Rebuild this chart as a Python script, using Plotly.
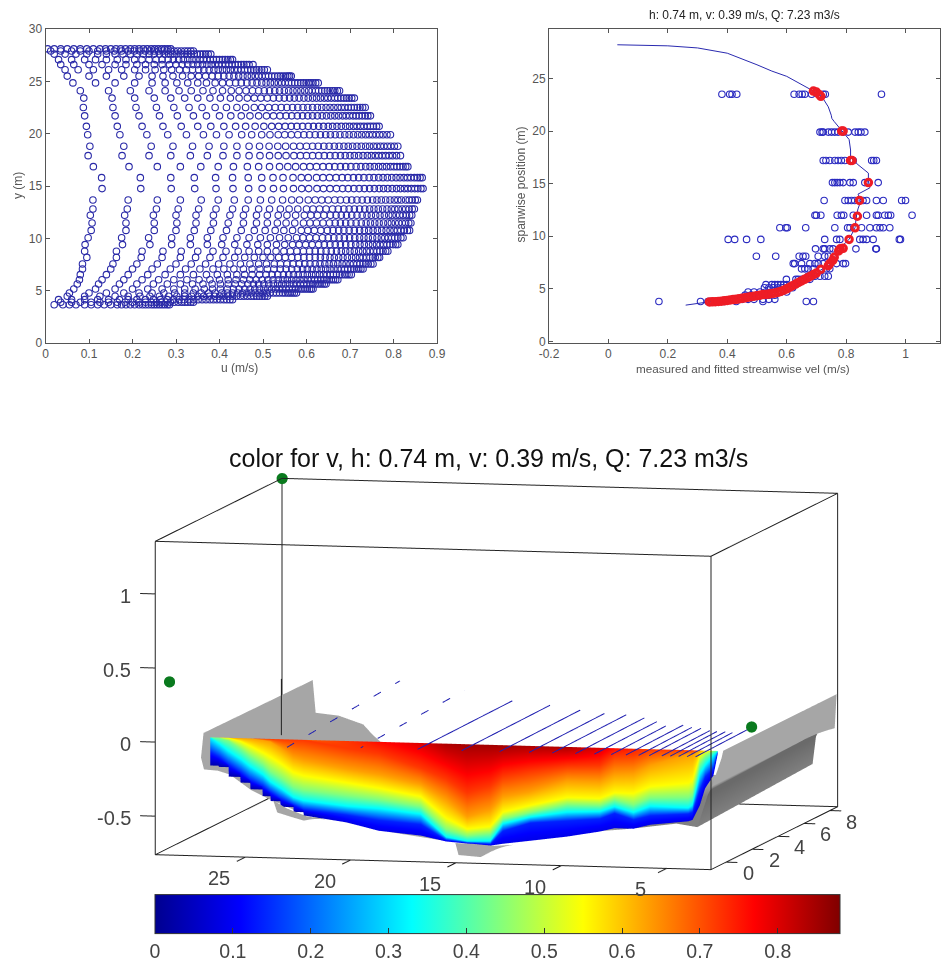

import plotly.graph_objects as go

# ---------- left panel: u values read per spanwise station
left_rows = {
 28.1:[.005,.02,.035,.05,.065,.08,.095,.11,.125,.138,.15,.162,.173,.184,.195,.205,.215,.225,.234,.243,.251,.259,.267,.274,.281,.288],
 27.9:[.012,.035,.06,.08,.1,.12,.14,.158,.175,.19,.204,.217,.229,.24,.25,.26,.27,.279,.288,.296,.304,.312,.32,.327,.334,.34],
 27.6:[.02,.045,.07,.095,.12,.14,.16,.178,.195,.21,.225,.238,.25,.262,.273,.283,.293,.302,.311,.319,.327,.335,.342,.349,.356,.362,.368,.374,.38],
 27.07:[.03,.06,.09,.115,.14,.165,.185,.205,.222,.238,.254,.268,.282,.294,.306,.317,.327,.337,.346,.355,.363,.371,.379,.386,.393,.4,.407,.413,.419,.425,.43],
 26.6:[.035,.065,.1,.13,.16,.185,.21,.23,.25,.268,.285,.3,.314,.327,.339,.35,.361,.371,.381,.39,.398,.406,.414,.422,.429,.436,.443,.45,.456,.462,.468,.477],
 26.1:[.045,.075,.11,.145,.175,.205,.23,.252,.272,.29,.308,.324,.338,.352,.364,.376,.387,.397,.407,.416,.425,.434,.442,.45,.458,.465,.472,.479,.485,.491,.497,.503,.51],
 25.5:[.05,.1,.14,.18,.215,.245,.27,.293,.315,.335,.352,.368,.383,.397,.41,.422,.433,.444,.454,.464,.473,.482,.49,.498,.506,.513,.52,.527,.534,.54,.546,.552,.557,.561,.565],
 24.85:[.063,.115,.16,.205,.245,.275,.302,.327,.35,.37,.39,.407,.423,.437,.45,.463,.475,.486,.497,.507,.517,.526,.535,.543,.551,.559,.566,.573,.58,.587,.593,.599,.605,.61,.615,.621,.627],
 24.1:[.08,.145,.195,.238,.275,.307,.335,.362,.385,.407,.427,.445,.461,.476,.49,.503,.515,.527,.538,.549,.559,.569,.578,.587,.596,.605,.613,.621,.628,.635,.642,.648,.654,.66,.665,.671,.676],
 23.4:[.088,.153,.205,.25,.288,.32,.35,.378,.402,.425,.445,.464,.48,.495,.51,.524,.537,.549,.561,.572,.583,.594,.604,.614,.623,.632,.641,.649,.657,.665,.672,.679,.686,.692,.698,.704,.71],
 22.5:[.087,.155,.208,.255,.295,.33,.36,.39,.416,.44,.46,.48,.497,.513,.528,.542,.555,.568,.58,.592,.603,.614,.625,.635,.645,.654,.663,.672,.68,.688,.696,.703,.71,.717,.723,.729,.735],
 21.7:[.09,.16,.215,.262,.303,.34,.37,.4,.426,.45,.47,.49,.508,.524,.539,.553,.566,.579,.591,.603,.614,.625,.636,.646,.656,.665,.674,.683,.691,.699,.707,.714,.721,.728,.735,.741,.747],
 20.7:[.094,.165,.222,.27,.312,.35,.38,.41,.437,.46,.482,.502,.52,.536,.551,.565,.578,.591,.604,.616,.628,.639,.65,.66,.67,.68,.69,.699,.708,.716,.724,.732,.74,.747,.754,.761,.767],
 19.9:[.097,.171,.233,.281,.324,.363,.393,.422,.451,.474,.497,.516,.535,.55,.565,.58,.594,.607,.62,.632,.644,.655,.666,.677,.688,.698,.708,.718,.727,.736,.744,.752,.76,.768,.776,.785,.793],
 18.8:[.102,.18,.243,.293,.338,.376,.41,.44,.468,.492,.514,.534,.552,.57,.585,.6,.614,.627,.64,.652,.664,.675,.686,.696,.706,.716,.726,.736,.745,.754,.762,.77,.778,.786,.794,.802,.81],
 17.9:[.098,.176,.238,.288,.333,.372,.408,.44,.468,.493,.515,.535,.553,.571,.586,.6,.614,.628,.641,.654,.666,.678,.689,.7,.71,.72,.73,.74,.749,.758,.766,.774,.782,.79,.798,.807,.816],
 16.85:[.11,.192,.257,.31,.357,.397,.432,.464,.49,.515,.538,.557,.575,.593,.608,.623,.638,.652,.665,.678,.69,.702,.714,.725,.736,.746,.756,.766,.775,.784,.793,.801,.808,.815,.822,.828,.833],
 15.8:[.129,.218,.288,.342,.391,.43,.466,.497,.523,.546,.569,.588,.604,.623,.638,.653,.668,.682,.695,.708,.72,.732,.744,.755,.766,.776,.786,.796,.806,.815,.824,.832,.84,.848,.855,.861,.866],
 14.75:[.13,.219,.289,.343,.392,.431,.467,.498,.524,.547,.57,.589,.605,.624,.639,.654,.669,.683,.696,.709,.721,.733,.745,.756,.767,.777,.787,.797,.807,.816,.825,.833,.841,.849,.856,.863,.868],
 13.66:[.109,.19,.257,.31,.358,.397,.434,.466,.494,.52,.545,.566,.584,.604,.62,.635,.65,.665,.678,.692,.704,.716,.728,.74,.752,.762,.772,.782,.792,.802,.81,.818,.828,.836,.843,.85,.855],
 12.8:[.109,.188,.255,.305,.352,.392,.43,.46,.49,.515,.54,.56,.58,.6,.615,.63,.645,.66,.673,.686,.698,.71,.722,.734,.745,.755,.765,.775,.785,.795,.803,.811,.82,.828,.836,.843,.848],
 12.2:[.103,.182,.248,.3,.346,.386,.424,.455,.485,.51,.535,.555,.575,.595,.61,.625,.64,.655,.668,.68,.692,.704,.716,.728,.739,.749,.759,.769,.779,.789,.797,.806,.814,.822,.83,.837,.842],
 11.46:[.107,.185,.25,.302,.346,.386,.42,.455,.485,.51,.533,.553,.573,.593,.608,.623,.638,.653,.666,.678,.69,.702,.714,.726,.737,.747,.757,.767,.777,.787,.795,.804,.812,.82,.828,.835,.84],
 10.76:[.105,.185,.25,.3,.342,.38,.416,.45,.48,.505,.528,.548,.568,.588,.603,.618,.633,.648,.661,.674,.686,.698,.71,.722,.733,.743,.753,.763,.773,.783,.792,.801,.809,.817,.825,.832,.837],
 10.06:[.098,.175,.237,.29,.333,.372,.408,.44,.468,.494,.517,.538,.558,.577,.592,.607,.622,.637,.65,.663,.675,.687,.699,.711,.722,.732,.742,.752,.762,.772,.78,.788,.796,.803,.81,.817,.822],
 9.4:[.091,.177,.24,.29,.333,.372,.405,.435,.463,.488,.51,.531,.55,.568,.583,.598,.613,.628,.641,.654,.666,.678,.69,.702,.713,.723,.733,.743,.752,.761,.769,.777,.785,.792,.799,.805,.81],
 8.76:[.09,.163,.222,.27,.312,.35,.385,.415,.443,.468,.49,.51,.53,.548,.563,.578,.593,.607,.62,.633,.645,.657,.669,.68,.69,.7,.71,.72,.729,.738,.746,.754,.762,.769,.776,.782,.787],
 8.18:[.095,.163,.22,.268,.31,.345,.378,.408,.435,.458,.48,.5,.518,.536,.551,.566,.58,.594,.607,.62,.632,.643,.654,.664,.674,.684,.694,.704,.713,.722,.73,.738,.746,.752,.758,.764,.768],
 7.55:[.085,.155,.21,.257,.3,.335,.368,.398,.424,.448,.47,.49,.508,.526,.54,.555,.569,.583,.596,.608,.62,.631,.642,.652,.662,.672,.682,.691,.7,.708,.716,.723,.73,.736,.742,.748,.753],
 7.07:[.085,.15,.2,.245,.287,.322,.355,.385,.41,.433,.455,.475,.493,.51,.525,.54,.553,.566,.579,.591,.602,.613,.624,.634,.644,.654,.663,.672,.68,.688,.695,.702,.709,.715,.72,.725,.73],
 6.53:[.08,.14,.19,.235,.275,.31,.34,.37,.395,.418,.44,.458,.475,.492,.507,.521,.534,.547,.559,.57,.581,.592,.602,.612,.621,.63,.639,.647,.655,.662,.669,.676,.682,.688,.693,.698,.703],
 6.05:[.078,.13,.18,.222,.26,.295,.325,.353,.378,.4,.42,.438,.455,.47,.484,.498,.511,.523,.535,.546,.556,.566,.576,.585,.594,.603,.611,.619,.626,.633,.64,.646,.652,.657,.662,.667,.672],
 5.64:[.073,.122,.17,.21,.248,.28,.31,.338,.362,.383,.402,.42,.436,.451,.465,.478,.49,.502,.513,.524,.534,.543,.552,.561,.57,.578,.586,.594,.601,.608,.614,.62,.626,.631,.636,.641,.645],
 5.16:[.065,.115,.16,.2,.235,.268,.295,.32,.344,.365,.384,.402,.418,.432,.445,.458,.47,.481,.492,.502,.511,.52,.529,.537,.545,.553,.56,.568,.575,.581,.587,.592,.597,.602,.607,.611,.615],
 4.78:[.055,.1,.14,.18,.215,.245,.272,.297,.32,.34,.358,.375,.39,.405,.418,.43,.442,.453,.463,.473,.482,.491,.5,.508,.516,.524,.531,.538,.545,.551,.557,.562,.567,.572,.577],
 4.46:[.05,.09,.125,.16,.19,.217,.24,.262,.283,.302,.32,.336,.35,.364,.377,.389,.4,.41,.42,.43,.439,.448,.456,.464,.472,.479,.486,.492,.498,.504,.51],
 4.14:[.03,.06,.09,.12,.145,.17,.19,.21,.23,.248,.264,.28,.294,.307,.319,.33,.341,.351,.36,.369,.378,.386,.394,.402,.41,.417,.424,.43],
 3.9:[.035,.06,.08,.105,.125,.145,.165,.183,.2,.215,.23,.243,.255,.266,.277,.287,.296,.305,.313,.32,.327,.334,.34],
 3.66:[.02,.04,.055,.07,.09,.105,.12,.135,.15,.165,.175,.185,.195,.205,.215,.223,.23,.237,.244,.25,.256,.262,.268,.274,.28,.285],
}
# ---------- right panel
fit_u = [.03,.2,.3,.4,.5,.55,.6,.65,.69,.72,.74,.75,.752,.76,.785,.81,.815,.815,.84,.875,.875,.88,.84,.85,.84,.835,.83,.81,.78,.765,.745,.715,.68,.65,.6,.55,.5,.45,.4,.35,.3,.26]
fit_y = [28.2,28.1,27.9,27.4,26.3,25.7,25.2,24.4,23.8,23.2,22.3,21.5,21.2,20.9,20,19.2,18.2,17.5,16.8,16,15.3,14.6,14,13.4,12.6,12,10.8,9.7,8.9,8,7.3,6.8,6.2,5.7,5,4.6,4.4,4.2,3.95,3.75,3.55,3.45]
meas_rows = {
 23.5:[.382,.408,.416,.432,.625,.642,.652,.661,.684,.723,.73,.919],
 19.9:[.712,.719,.723,.74,.751,.762,.773,.79,.807,.83,.841,.85,.863],
 17.2:[.723,.732,.745,.762,.773,.784,.796,.813,.824,.886,.893,.902],
 15.1:[.754,.762,.77,.779,.79,.813,.824,.863,.908],
 13.4:[.726,.796,.807,.818,.829,.846,.857,.869,.902,.925,.987,1.0],
 12.0:[.695,.7,.715,.77,.784,.792,.824,.869,.902,.908,.93,.942,.95,1.022],
 10.8:[.577,.597,.602,.664,.762,.805,.813,.852,.88,.902,.914,.925,.947],
 9.7:[.403,.425,.465,.513,.728,.768,.779,.846,.857,.869,.891,.979,.983],
 8.8:[.697,.723,.728,.745,.756,.833,.9,.902],
 8.1:[.498,.563,.642,.655,.664,.706,.728,.74],
 7.4:[.622,.627,.65,.678,.695,.706,.723,.768,.79,.798],
 6.9:[.65,.661,.672,.689,.712,.734,.745],
 6.2:[.672,.695,.712,.728,.74],
 5.9:[.599,.631,.639,.65,.678],
 5.4:[.53,.55,.56,.57,.58,.59,.6],
 5.1:[.525,.54,.555,.57,.585,.6,.62],
 4.7:[.47,.49,.51,.53,.55,.57,.58,.6],
 4.4:[.46,.48,.5,.52,.54,.56],
 4.0:[.45,.47,.49,.52,.54,.56],
 3.8:[.17,.31,.335,.34,.35,.37,.39,.43,.52,.666,.69],
}
red_u=[.34,.35,.36,.37,.38,.39,.40,.41,.42,.43,.44,.45,.46,.47,.48,.49,.50,.51,.52,.53,.54,.55,.56,.57,.58,.59,.6,.61,.62,.63,.64,.65,.66,.67,.68,.69,.7,.715,.74,.745,.755,.76,.775,.78,.79,.81,.83,.838,.845,.875,.82,.815,.785,.79,.69,.7,.71,.715]
red_y=[3.75,3.76,3.78,3.8,3.82,3.86,3.9,3.94,3.98,4.0,4.05,4.1,4.15,4.2,4.25,4.3,4.35,4.4,4.45,4.47,4.5,4.55,4.6,4.67,4.75,4.87,5,5.15,5.3,5.45,5.6,5.75,5.9,6.05,6.2,6.35,6.5,6.85,7.2,7.4,7.7,8,8.6,8.8,8.85,9.7,10.8,11.9,13.4,15.1,17.2,17.2,20,20,23.8,23.7,23.45,23.3]

# ---------- 3D colored section: x stations, depth below section top per v level
sec_x=[28.1,27.7,27.69,27.23,27.22,26.67,26.66,26.2,26.19,25.62,25.61,25.24,25.23,24.77,24.76,24.15,24.14,23.67,23.66,
       21.6,20.1,18.1,16.9,15.9,14.8,14.2,12.9,11.15,9.6,8.9,8.0,7.2,5.4,5.2,4.85,4.6,4.2,4.0]
sec_levels=[.72,.63,.55,.44,.33,.14]
sec_bed_v=[.03]*19+[.09]*19
sec_top=[.3,.38,.38,.45,.45,.5,.5,.55,.55,.58,.58,.62,.62,.64,.64,.66,.66,.68,.68,
         .72,.76,.8,.84,.85,.85,.85,.84,.84,.8,.76,.74,.7,.62,.6,.5,.42,.33,.3]
sec_depth=[
[0,0,0,0,0,.1,.19],[0,0,0,0,.04,.13,.19],[0,0,0,0,.04,.13,.198],[0,0,0,.02,.09,.18,.198],[0,0,0,.02,.09,.18,.262],
[0,0,.02,.07,.14,.23,.262],[0,0,.02,.07,.14,.23,.30],[0,0,.05,.12,.19,.28,.30],[0,0,.05,.12,.19,.28,.343],
[0,.01,.09,.17,.24,.32,.343],[0,.01,.09,.17,.24,.32,.387],[0,.02,.12,.22,.29,.36,.387],[0,.02,.12,.22,.29,.36,.419],
[0,.06,.16,.26,.33,.40,.419],[0,.06,.16,.26,.33,.40,.456],[0,.12,.22,.32,.39,.44,.456],[0,.12,.22,.32,.39,.44,.488],
[0,.14,.24,.34,.41,.47,.488],[0,.14,.24,.34,.41,.47,.51],[.05,.19,.28,.37,.44,.5,.55],
[.08,.22,.31,.39,.45,.53,.6],[.17,.28,.36,.43,.48,.55,.625],[.24,.38,.5,.58,.63,.65,.66],[.33,.49,.57,.62,.655,.665,.67],
[.28,.44,.55,.6,.65,.67,.68],[.21,.35,.45,.5,.53,.58,.665],[.17,.31,.40,.45,.48,.52,.64],[.13,.23,.34,.39,.44,.5,.605],
[.12,.23,.34,.39,.43,.48,.565],[.05,.18,.3,.35,.395,.44,.54],[.04,.17,.3,.38,.43,.48,.54],[0,.11,.25,.33,.385,.45,.51],
[0,.03,.22,.32,.39,.43,.48],[0,.03,.2,.3,.37,.42,.47],[0,0,.03,.09,.16,.27,.37],[0,0,0,.04,.1,.18,.255],[0,0,0,0,.03,.12,.165],[0,0,0,0,0,.01,.02]]
sec_y=1.5
sec_z0=-.08

# bed (gray): near and far row
bed_near_x=[28.45,28.57,28.43,27.77,27.2,26.2,25.3,24.1,20.1,16.9,14.8,12.9,9.6,8,6,5,4.5,4.4,4.3,3.85,3.77]
bed_near_z=[-.054,-.22,-.30,-.306,-.33,-.43,-.49,-.56,-.68,-.74,-.76,-.72,-.645,-.62,-.58,-.6,-.38,-.35,-.32,-.13,-.08]
bed_far_x=[27.6,27.46,26.37,25.2,24.76,24,23,21,18,15,13,11,8,6,4.5,3.86,3.7,3.6,3.5,2.81,2.72]
bed_far_z=[0,-.22,-.235,-.29,-.357,-.45,-.5,-.55,-.6,-.65,-.65,-.6,-.56,-.52,-.5,-.475,-.29,-.26,-.255,-.23,0]
bed_shade=[1,1,1,1,1,1,1,1,1,1,1,1,1,.3,.3,.3,0,0,1,1,1]
bed_y=[1.55,8.58]
# small protrusions of the bed in front of the section
bump_x=[[24.45,24.26,23.5,23.0,22.5],[15.8,15.65,14.6,13.7]]
bump_front=[[-.446,-.526,-.557,-.576,-.549],[-.70,-.78,-.79,-.72]]
bump_back=[[-.545,-.555,-.595,-.605,-.615],[-.75,-.75,-.76,-.75]]
bump_y=[.43,1.48]

# depth-averaged velocity lines
line_x=[23.6,20.1,17.4,15.3,13.5,12.1,11,9.9,9,8.2,7.5,6.9,6.4,5.8,5.4,5,4.6,4.2]
line_len=[8.7,8.0,7.3,6.8,6.2,5.8,5.7,5.3,4.8,4.2,4.4,4.1,4.0,3.7,3.6,3.6,3.5,4.2]
line_z0=[-.07,-.06]+[-.06]*16
line_z1=[0,-.02]+[-.05]*16
line_start=0.11

x_rng=[2.68,29.07]; y_rng=[-1.16,8.6]; z_rng=[-.76,1.355]
x_ticks=[5,10,15,20,25]; y_ticks=[0,2,4,6,8]; z_ticks=[-.5,0,.5,1]
cb_ticks=[0,.1,.2,.3,.4,.5,.6,.7,.8]
jet=[[0,'#00008f'],[.125,'#0000ff'],[.375,'#00ffff'],[.625,'#ffff00'],[.875,'#ff0000'],[1,'#800000']]

W,H=943,969
def fx(p): return p/W
def fy(p): return 1-p/H
fig=go.Figure()
BLUE='#2a2aa8'
ax=dict(showgrid=False,zeroline=False,mirror='allticks',showline=True,linecolor='#555',linewidth=1,ticks='inside',ticklen=4,tickcolor='#555',
        tickfont=dict(family='Liberation Sans',size=12,color='#555'))
lx=[];ly=[]
for y,us in left_rows.items():
    lx+=us; ly+=[y]*len(us)
fig.add_trace(go.Scatter(x=lx,y=ly,mode='markers',marker=dict(symbol='circle-open',size=6.5,color=BLUE,line=dict(width=1.1)),xaxis='x',yaxis='y',showlegend=False))
mx=[];my=[]
for y,us in meas_rows.items():
    mx+=us; my+=[y]*len(us)
fig.add_trace(go.Scatter(x=mx,y=my,mode='markers',marker=dict(symbol='circle-open',size=6.5,color='#2a2ac0',line=dict(width=1.1)),xaxis='x2',yaxis='y2',showlegend=False))
fig.add_trace(go.Scatter(x=fit_u,y=fit_y,mode='lines',line=dict(color='#2a2ab0',width=1),xaxis='x2',yaxis='y2',showlegend=False))
fig.add_trace(go.Scatter(x=red_u,y=red_y,mode='markers',marker=dict(symbol='circle-open',size=6.5,color='#ee1c25',line=dict(width=3)),xaxis='x2',yaxis='y2',showlegend=False))

fig.update_layout(
    width=W,height=H,margin=dict(l=0,r=0,t=0,b=0,autoexpand=False),paper_bgcolor='white',plot_bgcolor='white',showlegend=False,
    xaxis=dict(domain=[fx(45.5),fx(437)],range=[0,.9],tickvals=[i/10 for i in range(10)],ticktext=['0']+[f'0.{i}' for i in range(1,10)],anchor='y',**ax),
    yaxis=dict(domain=[fy(343),fy(29)],range=[0,30],tickvals=[0,5,10,15,20,25,30],anchor='x',**ax),
    xaxis2=dict(domain=[fx(549),fx(940)],range=[-.2,1.116],tickvals=[-.2,0,.2,.4,.6,.8,1],ticktext=['-0.2','0','0.2','0.4','0.6','0.8','1'],anchor='y2',**ax),
    yaxis2=dict(domain=[fy(343),fy(29)],range=[-.15,29.7],tickvals=[0,5,10,15,20,25],anchor='x2',**ax),
)
# 3D section
zg=[];xg=[];yg=[];cg=[]
for j in range(len(sec_levels)+2):
    zr=[];xr=[];yr=[];cr=[]
    for i,x in enumerate(sec_x):
        d=0 if j==0 else sec_depth[i][j-1]
        v=sec_top[i] if j==0 else (sec_bed_v[i] if j==len(sec_levels)+1 else sec_levels[j-1])
        zr.append(sec_z0-d);xr.append(-x);yr.append(sec_y);cr.append(v)
    zg.append(zr);xg.append(xr);yg.append(yr);cg.append(cr)
flat=dict(ambient=1,diffuse=0,specular=0,roughness=1,fresnel=0)
fig.add_trace(go.Surface(x=xg,y=yg,z=zg,surfacecolor=cg,colorscale=jet,cmin=0,cmax=.88,lighting=flat,hoverinfo='skip',
    colorbar=dict(orientation='h',x=fx(497.5),xanchor='center',y=fy(969),yanchor='bottom',lenmode='pixels',len=685,thicknessmode='pixels',thickness=39,
                  tickvals=cb_ticks,ticktext=['0']+[f'{t:g}' for t in cb_ticks[1:]],ticks='inside',ticklen=6,tickcolor='#333',outlinecolor='#333',outlinewidth=1,
                  xpad=0,ypad=0,tickfont=dict(family='Liberation Sans',size=19.5,color='#444'))))
# bed
gray=[[0,'#6a6a6a'],[.3,'#808080'],[1,'#a6a6a6']]
fig.add_trace(go.Surface(x=[[-x for x in bed_near_x],[-x for x in bed_far_x]],
    y=[[bed_y[0]]*len(bed_near_x),[bed_y[1]]*len(bed_far_x)],z=[bed_near_z,bed_far_z],
    surfacecolor=[bed_shade,bed_shade],colorscale=gray,cmin=0,cmax=1,showscale=False,lighting=flat,hoverinfo='skip'))
for bx_,bf,bb in zip(bump_x,bump_front,bump_back):
    fig.add_trace(go.Surface(x=[[-x for x in bx_],[-x for x in bx_]],y=[[bump_y[0]]*len(bx_),[bump_y[1]]*len(bx_)],z=[bf,bb],
        surfacecolor=[[1]*len(bx_)]*2,colorscale=gray,cmin=0,cmax=1,showscale=False,lighting=flat,hoverinfo='skip'))
# box
X0,X1=-x_rng[1],-x_rng[0];Y0,Y1=y_rng;Z0,Z1=z_rng
def seg(a,b,xs,ys,zs):
    xs+= [a[0],b[0],None];ys+=[a[1],b[1],None];zs+=[a[2],b[2],None]
bx=[];by=[];bz=[]
for y in (Y0,Y1):
    for z in (Z0,Z1):
        seg((X0,y,z),(X1,y,z),bx,by,bz)
for x in (X0,X1):
    for z in (Z0,Z1):
        seg((x,Y0,z),(x,Y1,z),bx,by,bz)
    for y in (Y0,Y1):
        seg((x,y,Z0),(x,y,Z1),bx,by,bz)
TS=.21
for t in x_ticks: seg((-t+TS,Y0,Z0),(-t+TS,Y0-.66,Z0),bx,by,bz)
for t in y_ticks: seg((X1,t,Z0),(X1+.54,t,Z0),bx,by,bz)
for t in z_ticks: seg((X0,Y0,t),(X0-.72,Y0,t),bx,by,bz)
# back-left edge stays visible across the gray bank
seg((-24.69,1.45,-.05),(-24.69,1.45,.33),bx,by,bz)
fig.add_trace(go.Scatter3d(x=bx,y=by,z=bz,mode='lines',line=dict(color='#222',width=2),hoverinfo='skip'))
ax3=[];ay3=[];az3=[];dx3=[];dy3=[];dz3=[]
for k,(x,l,a,b) in enumerate(zip(line_x,line_len,line_z0,line_z1)):
    if k<2:
        dx3+=[-x,-x,None];dy3+=[line_start,line_start+l,None];dz3+=[a,b,None]
    else:
        ax3+=[-x,-x,None];ay3+=[line_start,line_start+l,None];az3+=[a,b,None]
fig.add_trace(go.Scatter3d(x=ax3,y=ay3,z=az3,mode='lines',line=dict(color='#2020b0',width=2),hoverinfo='skip'))
fig.add_trace(go.Scatter3d(x=dx3,y=dy3,z=dz3,mode='lines',line=dict(color='#2020b0',width=2,dash='longdash'),hoverinfo='skip'))
fig.add_trace(go.Scatter3d(x=[X0,-28.4,-4],y=[Y1,Y0,4.1],z=[Z1,.41,-.03],mode='markers',marker=dict(color='#0a7a1e',size=6.5),hoverinfo='skip'))

ann3=[]
tf=dict(family='Liberation Sans',size=20,color='#444')
for t in z_ticks:
    ann3.append(dict(x=X0,y=Y0,z=t,text=f'{t:g}',showarrow=False,xanchor='right',xshift=-22,yshift=-2,font=tf))
for t in x_ticks:
    ann3.append(dict(x=-t+TS,y=Y0,z=Z0,text=f'{t:g}',showarrow=False,yshift=-21,xshift=-26,font=tf))
for t in y_ticks:
    ann3.append(dict(x=X1,y=t,z=Z0,text=f'{t:g}',showarrow=False,xshift=22,yshift=-11,font=tf))
r=8
S=1.934
# axis ranges carry a symmetric pad so the outward ticks are not clipped
PX,PY,PZ=.8,.7,.1
LX,LY,LZ=X1-X0,Y1-Y0,Z1-Z0
fig.update_layout(scene=dict(domain=dict(x=[78/W,915/W],y=[0,590/H]),
    xaxis=dict(visible=False,range=[X0-PX,X1+PX]),yaxis=dict(visible=False,range=[Y0-PY,Y1+PY]),zaxis=dict(visible=False,range=[Z0-PZ,Z1+PZ]),
    aspectmode='manual',aspectratio=dict(x=S*(LX+2*PX)/LX,y=.98*S*(LY+2*PY)/LY,z=.553*S*(LZ+2*PZ)/LZ),
    camera=dict(eye=dict(x=.225*r,y=-.967*r,z=.1155*r),up=dict(x=0,y=0,z=1),center=dict(x=0,y=0,z=0),projection=dict(type='orthographic')),
    annotations=ann3,bgcolor='rgba(0,0,0,0)'))
def txt(x,y,s,size,color='#555',angle=0):
    fig.add_annotation(xref='paper',yref='paper',x=fx(x),y=fy(y),text=s,showarrow=False,font=dict(family='Liberation Sans',size=size,color=color),textangle=angle,xanchor='center',yanchor='middle')
txt(239,368,'u (m/s)',12)
txt(18,186,'y (m)',12,angle=-90)
txt(743,368,'measured and fitted streamwise vel (m/s)',11.7)
txt(520.5,185,'spanwise position (m)',12,angle=-90)
txt(744,15,'h: 0.74 m, v: 0.39 m/s, Q: 7.23 m3/s',12,'#222')
txt(488,458,'color for v, h: 0.74 m, v: 0.39 m/s, Q: 7.23 m3/s',25,'#111')
fig.write_html('out.html',config=dict(displayModeBar=False),post_script="document.body.style.margin='0';document.documentElement.style.overflow='hidden';")
